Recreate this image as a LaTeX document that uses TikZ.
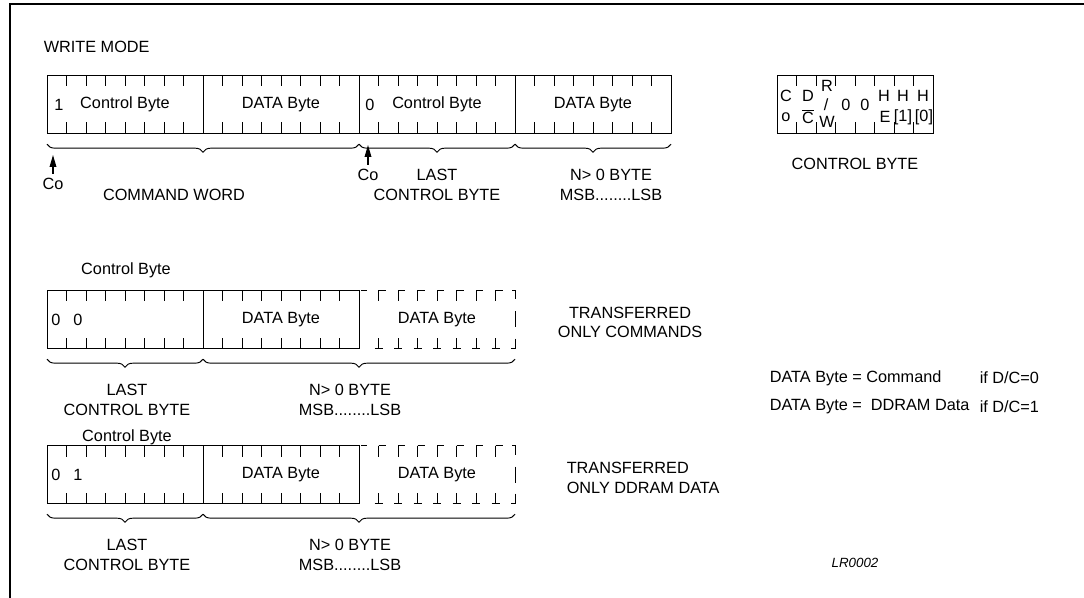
\documentclass[tikz,border=0pt]{standalone}
\usepackage{fontspec}
\setmainfont{Liberation Sans}
\usetikzlibrary{calc,positioning,arrows.meta,decorations.pathreplacing}

\begin{document}
\begin{tikzpicture}[x=0.75pt,y=-0.75pt,line width=0.7pt,
  every node/.style={font=\fontsize{12.2}{14.6}\selectfont, inner sep=1pt},
  bytebox/.style={draw, rectangle, minimum width=117pt, minimum height=43.5pt, inner sep=0pt, outer sep=0pt},
  ghostbox/.style={rectangle, minimum width=117pt, minimum height=43.5pt, inner sep=0pt, outer sep=0pt},
  brc/.style={decorate, decoration={brace, mirror, amplitude=6pt}},
  colbl/.style={inner sep=3pt},
  coarrow/.style={-{Triangle[length=9pt,width=5pt]}, line width=0.9pt}]
  \useasboundingbox (0,0) rectangle (1084,598);
  % frame
  \draw[line width=1.8pt] (10,598) -- (10,4) -- (1084,4);

  % write mode
  \node[anchor=west] (title) at (42,47) {WRITE MODE};
  \node[bytebox] (w1) at (125,104.5) {Control Byte};
  \node[bytebox, right=0pt of w1] (w2) {DATA Byte};
  \node[bytebox, right=0pt of w2] (w3) {Control Byte};
  \node[bytebox, right=0pt of w3] (w4) {DATA Byte};
  \node (w1bit) at (59,104.5) {1};
  \node (w3bit) at (370,104.5) {0};

  \draw[brc] ([yshift=-8pt]w1.south west) -- ([yshift=-8pt]w2.south east);
  \draw[brc] ([yshift=-8pt]w3.south west) -- ([yshift=-8pt]w3.south east);
  \draw[brc] ([yshift=-8pt]w4.south west) -- ([yshift=-8pt]w4.south east);

  \node[colbl] (co1) at (53,184) {Co};
  \coordinate (co1tip) at (53,155);
  \draw[coarrow] (co1) -- (co1tip);
  \node[colbl] (co2) at (368,175) {Co};
  \coordinate (co2tip) at (368,145);
  \draw[coarrow] (co2) -- (co2tip);

  \node (cmdword) at (174,195) {COMMAND WORD};
  \node[align=center] (lastw) at (437,185) {LAST\\CONTROL BYTE};
  \node[align=center] (nbytew) at (611,185) {N> 0 BYTE\\MSB........LSB};

  % control byte
  \node[bytebox] (cb) at (855,104.5) {};
  \node (cbC) at (786,96) {C};
  \node (cbo) at (786,117) {o};
  \node (cbD) at (808,96) {D};
  \node (cbCbar) at (808,117) {$\overline{\mbox{C}}$};
  \node (cbR) at (827,86) {R};
  \node (cbsl) at (826,105) {/};
  \node (cbW) at (827,122) {W};
  \node (cbz1) at (846,105) {0};
  \node (cbz2) at (865,105) {0};
  \node (cbH1) at (884,96) {H};
  \node (cbE) at (885,117) {E};
  \node (cbH2) at (903,96) {H};
  \node (cbone) at (903,117) {[1]};
  \node (cbH3) at (923,96) {H};
  \node (cbzero) at (924,117) {[0]};
  \node (cbname) at (855,164) {CONTROL BYTE};

  % only commands
  \node (cblbl2) at (126,270) {Control Byte};
  \node[bytebox] (c1) at (125,319.5) {};
  \node[bytebox, right=0pt of c1] (c2) {DATA Byte};
  \node[ghostbox, right=0pt of c2] (c3) {DATA Byte};
  \node (c1bita) at (56,319.5) {0};
  \node (c1bitb) at (78,319.5) {0};
  \draw[brc] ([yshift=-8pt]c1.south west) -- ([yshift=-8pt]c1.south east);
  \draw[brc] ([yshift=-8pt]c2.south west) -- ([yshift=-8pt]c3.south east);
  \node[align=center] (lastc) at (127,400) {LAST\\CONTROL BYTE};
  \node[align=center] (nbytec) at (350,400) {N> 0 BYTE\\MSB........LSB};
  \node[align=center] (onlycmd) at (630,322.5) {TRANSFERRED\\ONLY COMMANDS};

  % only ddram data
  \node (cblbl3) at (127,437) {Control Byte};
  \node[bytebox] (d1) at (125,474.5) {};
  \node[bytebox, right=0pt of d1] (d2) {DATA Byte};
  \node[ghostbox, right=0pt of d2] (d3) {DATA Byte};
  \node (d1bita) at (56,474.5) {0};
  \node (d1bitb) at (78,474.5) {1};
  \draw[brc] ([yshift=-8pt]d1.south west) -- ([yshift=-8pt]d1.south east);
  \draw[brc] ([yshift=-8pt]d2.south west) -- ([yshift=-8pt]d3.south east);
  \node[align=center] (lastd) at (127,555) {LAST\\CONTROL BYTE};
  \node[align=center] (nbyted) at (350,555) {N> 0 BYTE\\MSB........LSB};
  \node[align=left, anchor=west] (onlyram) at (565,478) {TRANSFERRED\\ONLY DDRAM DATA};

  % ticks
  \foreach \b in {w1,w2,w3,w4,c1,c2,d1,d2,cb}
    \foreach \i in {1,...,7} {
      \draw ($(\b.north west)!\i/8!(\b.north east)$) -- ++(0,11);
      \draw ($(\b.south west)!\i/8!(\b.south east)$) -- ++(0,-11);
    }
  % dashed bytes
  \foreach \b in {c3,d3} {
    \foreach \i in {1,...,7} {
      \draw ($(\b.north west)!\i/8!(\b.north east)$) -- ++(0,11)
            ($(\b.north west)!\i/8!(\b.north east)$) -- ++(7,0);
      \draw ($(\b.south west)!\i/8!(\b.south east)$) -- ++(0,-11)
            ($(\b.south west)!\i/8!(\b.south east)$) ++(-4,0) -- ++(8,0);
    }
    \draw (\b.north west) ++(2,0) -- ++(6,0);
    \draw (\b.north east) ++(-3,0) -- ++(3,0) -- ++(0,9);
    \draw (\b.east) ++(0,-8) -- ++(0,16);
    \draw (\b.south east) ++(0,-10) -- ++(0,10) -- ++(-4,0);
  }

  % legend
  \node[anchor=west] (eq1) at (768,378) {DATA Byte = Command};
  \node[anchor=west] (if1) at (978,378) {if D/C=0};
  \node[anchor=west] (eq2) at (768,407) {DATA Byte =\ \ DDRAM Data};
  \node[anchor=west] (if2) at (978,407) {if D/C=1};
  \node[font=\fontsize{10}{12}\selectfont\itshape] (ref) at (855,563) {LR0002};
\end{tikzpicture}
\end{document}
